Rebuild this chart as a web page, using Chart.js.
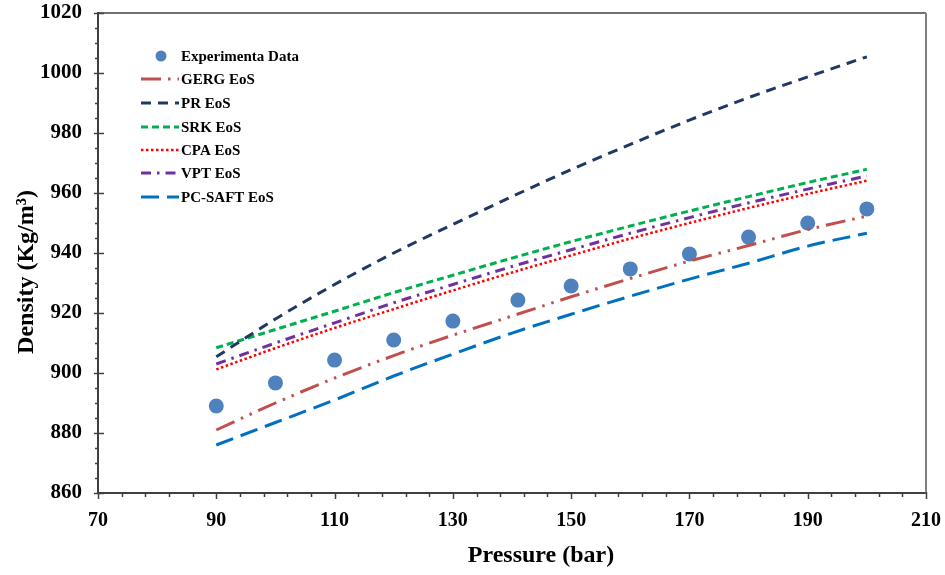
<!DOCTYPE html>
<html><head><meta charset="utf-8">
<script src="https://cdn.jsdelivr.net/npm/chart.js@4/dist/chart.umd.min.js"></script>
<style>html,body{margin:0;padding:0;background:#fff}#wrap{width:945px;height:575px;position:relative}</style>
</head><body><div id="wrap"><canvas id="c" width="945" height="575"></canvas></div>
<script>
// ---- data ----
const expPressure = [90, 100, 110, 120, 130, 141, 150, 160, 170, 180, 190, 200];
const expDensity  = [889.0, 896.7, 904.3, 911.0, 917.3, 924.3, 929.0, 934.7, 939.7, 945.3, 950.0, 954.7];
const modelPressure = [90, 100, 110, 120, 130, 140, 150, 160, 170, 180, 190, 200];
const gergDensity   = [881.0, 890.0, 898.3, 905.8, 912.6, 919.0, 925.4, 931.5, 937.3, 942.5, 947.8, 952.3];
const prDensity     = [905.4, 918.0, 929.5, 940.0, 949.5, 958.8, 967.8, 976.2, 984.3, 991.8, 998.7, 1005.4];
const srkDensity    = [908.4, 914.5, 920.6, 926.8, 932.6, 938.3, 943.8, 949.0, 954.0, 958.8, 963.5, 967.9];
const cpaDensity    = [901.2, 908.3, 915.0, 921.3, 927.5, 933.5, 939.2, 944.8, 950.0, 955.0, 959.7, 964.1];
const vptDensity    = [903.0, 910.0, 916.7, 923.4, 929.5, 935.5, 941.1, 946.6, 951.8, 956.7, 961.3, 965.7];
const pcsaftDensity = [876.0, 883.5, 891.0, 899.0, 906.3, 913.3, 919.6, 925.6, 931.3, 936.6, 942.3, 946.6];
const seriesLabels = ['Experimenta Data', 'GERG EoS', 'PR EoS', 'SRK EoS', 'CPA EoS', 'VPT EoS', 'PC-SAFT EoS'];
const xTickValues = [70, 90, 110, 130, 150, 170, 190, 210];
const yTickValues = [860, 880, 900, 920, 940, 960, 980, 1000, 1020];
const xTitle = 'Pressure (bar)';
const yTitle = 'Density (Kg/m³)';

const SERIF = '"Liberation Serif","Times New Roman",serif';
const pts = (xs, ys) => xs.map((x, i) => ({x, y: ys[i]}));

function lineDs(label, data, color, dash, width) {
  return {type: 'line', label, data: pts(modelPressure, data), borderColor: color, backgroundColor: color,
    borderWidth: width || 3, borderDash: dash, pointRadius: 0, pointHoverRadius: 0, fill: false,
    cubicInterpolationMode: 'monotone', order: 1, borderCapStyle: 'butt'};
}

const datasets = [
  {type: 'scatter', label: seriesLabels[0], data: pts(expPressure, expDensity), backgroundColor: '#4F81BD',
   borderColor: '#4F81BD', pointRadius: 7.5, pointHoverRadius: 7.5, borderWidth: 0, order: 10, showLine: false},
  lineDs(seriesLabels[1], gergDensity, '#C0504D', [20, 7, 2.5, 7, 2.5, 7], 3),
  lineDs(seriesLabels[2], prDensity, '#1F3864', [10, 7], 3),
  lineDs(seriesLabels[3], srkDensity, '#00B050', [7, 4], 3),
  lineDs(seriesLabels[4], cpaDensity, '#FF0000', [2.5, 2.5], 2.5),
  lineDs(seriesLabels[5], vptDensity, '#7030A0', [10, 6, 2.5, 6], 3),
  lineDs(seriesLabels[6], pcsaftDensity, '#0070C0', [18, 8], 3)
];

const decor = {
  id: 'decor',
  afterDraw(chart) {
    const ctx = chart.ctx, a = chart.chartArea;
    const xs = chart.scales.x, ys = chart.scales.y;
    ctx.save();
    ctx.strokeStyle = '#404040'; ctx.lineWidth = 1.5;
    ctx.beginPath(); ctx.moveTo(a.left, a.top); ctx.lineTo(a.right, a.top); ctx.stroke();
    ctx.strokeStyle = '#808080'; ctx.lineWidth = 2;
    ctx.beginPath(); ctx.moveTo(a.right, a.top); ctx.lineTo(a.right, a.bottom); ctx.stroke();
    ctx.strokeStyle = '#404040'; ctx.lineWidth = 1.5;
    ctx.beginPath();
    for (let v = xs.min; v <= xs.max + 1e-6; v += 4) {
      const px = Math.round(xs.getPixelForValue(v)) + 0.5;
      const major = Math.abs((v - xs.min) % 20) < 1e-6;
      ctx.moveTo(px, a.bottom - (major ? 1 : 0)); ctx.lineTo(px, a.bottom + (major ? 6 : 4));
    }
    for (let v = ys.min; v <= ys.max + 1e-6; v += 5) {
      const py = Math.round(ys.getPixelForValue(v)) + 0.5;
      const major = Math.abs((v - ys.min) % 20) < 1e-6;
      ctx.moveTo(a.left - (major ? 4 : 3), py); ctx.lineTo(a.left + (major ? 6 : 0), py);
    }
    ctx.stroke();
    ctx.fillStyle = '#000';
    ctx.font = 'bold 24px ' + SERIF;
    ctx.textAlign = 'center'; ctx.textBaseline = 'middle';
    ctx.fillText(xTitle, 541, 556);
    ctx.save(); ctx.translate(27, 272); ctx.rotate(-Math.PI / 2); ctx.fillText(yTitle, 0, 0); ctx.restore();
    ctx.font = 'bold 15px ' + SERIF;
    ctx.textAlign = 'left';
    const rows = [56, 79, 103, 127, 150, 173, 197];
    chart.data.datasets.forEach((ds, i) => {
      const y = rows[i];
      if (ds.type === 'scatter') {
        ctx.fillStyle = ds.backgroundColor;
        ctx.beginPath(); ctx.arc(161, y, 5.5, 0, Math.PI * 2); ctx.fill();
      } else {
        ctx.strokeStyle = ds.borderColor; ctx.lineWidth = ds.borderWidth;
        ctx.setLineDash(ds.borderDash || []);
        ctx.beginPath(); ctx.moveTo(141, y); ctx.lineTo(179, y); ctx.stroke();
        ctx.setLineDash([]);
      }
      ctx.fillStyle = '#000';
      ctx.fillText(ds.label, 181, y + 1);
    });
    ctx.restore();
  }
};

new Chart(document.getElementById('c'), {
  data: {datasets},
  options: {
    responsive: false, animation: false, devicePixelRatio: 1,
    layout: {padding: {left: 0, top: 13, right: 19, bottom: 0}},
    plugins: {legend: {display: false}, tooltip: {enabled: false}},
    scales: {
      x: {type: 'linear', min: 70, max: 210,
        afterBuildTicks: s => { s.ticks = xTickValues.map(v => ({value: v})); },
        afterFit: s => { s.height = 82; s.paddingLeft = 0; s.paddingRight = 0; },
        grid: {display: false, drawTicks: false},
        border: {display: true, color: '#404040', width: 2},
        ticks: {padding: 16, color: '#000', callback: v => String(v), font: {family: SERIF, size: 20, weight: 'bold'}}},
      y: {type: 'linear', min: 860, max: 1020,
        afterBuildTicks: s => { s.ticks = yTickValues.map(v => ({value: v})); },
        afterFit: s => { s.width = 98; s.paddingTop = 0; s.paddingBottom = 0; },
        grid: {display: false, drawTicks: false},
        border: {display: true, color: '#404040', width: 2},
        ticks: {padding: 16, color: '#000', callback: v => String(v), font: {family: SERIF, size: 21, weight: 'bold'}}}
    }
  },
  plugins: [decor]
});
</script></body></html>
